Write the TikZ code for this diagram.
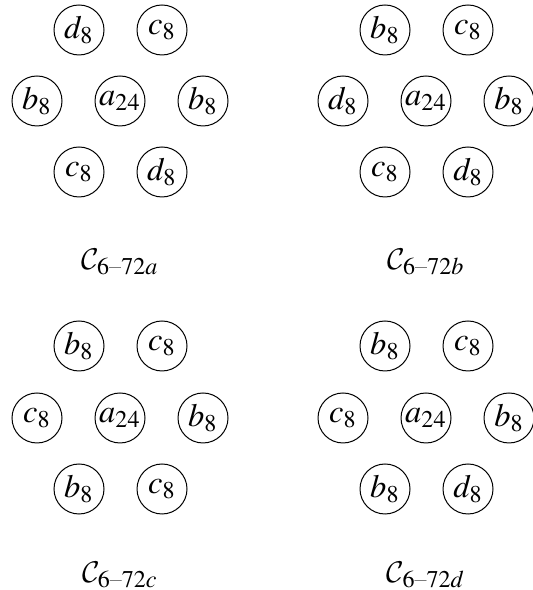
\documentclass[tikz,border=0pt]{standalone}
\usepackage{amsmath}
\usepackage{mathptmx}
\DeclareMathAlphabet{\mathcal}{OMS}{cmsy}{m}{n}

\begin{document}
\begin{tikzpicture}[x=.4pt,y=.4pt,
  site/.style={draw,circle,inner sep=0pt,minimum size=20pt,font=\fontsize{13}{15}\selectfont},
  grouplabel/.style={font=\fontsize{13}{15}\selectfont}]
  \useasboundingbox (0,0) rectangle (532,590);
  % C_{6-72a}
  \node[site] (a1) at (79,560) {$d_8$};
  \node[site] (a2) at (162,560) {$c_8$};
  \node[site] (a3) at (37,489) {$b_8$};
  \node[site] (a4) at (120,489) {$a_{24}$};
  \node[site] (a5) at (203,489) {$b_8$};
  \node[site] (a6) at (79,418) {$c_8$};
  \node[site] (a7) at (162,418) {$d_8$};
  \node[grouplabel] (alabel) at (120,328) {$\mathcal{C}_{6\text{--}72a}$};
  % C_{6-72b}
  \node[site] (b1) at (385,560) {$b_8$};
  \node[site] (b2) at (468,560) {$c_8$};
  \node[site] (b3) at (343,489) {$d_8$};
  \node[site] (b4) at (426,489) {$a_{24}$};
  \node[site] (b5) at (509,489) {$b_8$};
  \node[site] (b6) at (385,418) {$c_8$};
  \node[site] (b7) at (468,418) {$d_8$};
  \node[grouplabel] (blabel) at (426,328) {$\mathcal{C}_{6\text{--}72b}$};
  % C_{6-72c}
  \node[site] (c1) at (79,244) {$b_8$};
  \node[site] (c2) at (162,244) {$c_8$};
  \node[site] (c3) at (37,172) {$c_8$};
  \node[site] (c4) at (120,172) {$a_{24}$};
  \node[site] (c5) at (203,172) {$b_8$};
  \node[site] (c6) at (79,101) {$b_8$};
  \node[site] (c7) at (162,101) {$c_8$};
  \node[grouplabel] (clabel) at (120,15) {$\mathcal{C}_{6\text{--}72c}$};
  % C_{6-72d}
  \node[site] (d1) at (385,244) {$b_8$};
  \node[site] (d2) at (468,244) {$c_8$};
  \node[site] (d3) at (343,172) {$c_8$};
  \node[site] (d4) at (426,172) {$a_{24}$};
  \node[site] (d5) at (509,172) {$b_8$};
  \node[site] (d6) at (385,101) {$b_8$};
  \node[site] (d7) at (468,101) {$d_8$};
  \node[grouplabel] (dlabel) at (426,15) {$\mathcal{C}_{6\text{--}72d}$};
\end{tikzpicture}
\end{document}
